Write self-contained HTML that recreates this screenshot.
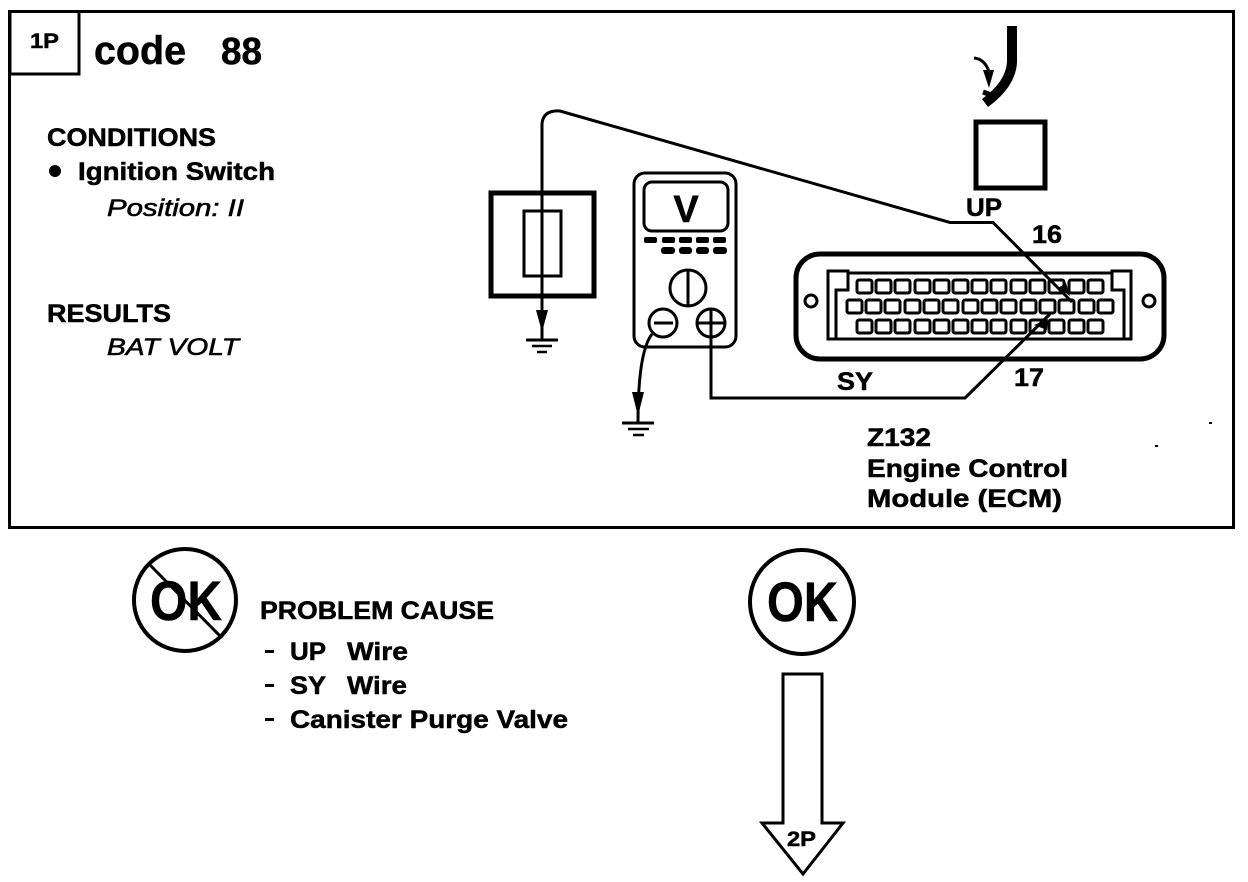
<!DOCTYPE html>
<html><head><meta charset="utf-8">
<style>
html,body{margin:0;padding:0;background:#fff;width:1248px;height:882px;overflow:hidden}
svg{display:block}
text{font-family:"Liberation Sans",sans-serif;font-weight:bold;fill:#000;stroke:#000;stroke-width:.5px}
.i{font-style:italic;font-weight:normal;stroke-width:.6px}
.w{fill:none;stroke:#000}
</style></head><body>
<svg width="1248" height="882" viewBox="0 0 1248 882" xmlns="http://www.w3.org/2000/svg">
<!-- main frame -->
<rect x="9.5" y="11.5" width="1224" height="516" class="w" stroke-width="3"/>
<path d="M10 11V74H79V11" class="w" stroke-width="3"/>
<text x="30" y="48" font-size="21" textLength="29" lengthAdjust="spacingAndGlyphs">1P</text>
<text x="94" y="64" font-size="40" textLength="92" lengthAdjust="spacingAndGlyphs">code</text>
<text x="221" y="64" font-size="38" textLength="41" lengthAdjust="spacingAndGlyphs">88</text>

<text x="47" y="146" font-size="25" textLength="169" lengthAdjust="spacingAndGlyphs">CONDITIONS</text>
<circle cx="55" cy="171" r="6"/>
<text x="78" y="180" font-size="25" textLength="197" lengthAdjust="spacingAndGlyphs">Ignition Switch</text>
<text x="107" y="216" font-size="24" class="i" textLength="137" lengthAdjust="spacingAndGlyphs">Position: II</text>
<text x="47" y="322" font-size="25" textLength="124" lengthAdjust="spacingAndGlyphs">RESULTS</text>
<text x="107" y="355" font-size="24" class="i" textLength="132" lengthAdjust="spacingAndGlyphs">BAT VOLT</text>

<!-- relay box -->
<rect x="491" y="193" width="103" height="103" class="w" stroke-width="5"/>
<rect x="524" y="211" width="37" height="65" class="w" stroke-width="3"/>
<path d="M542 340V124Q543 110 560 111L950 222.500H993L1072 302" class="w" stroke-width="3"/>
<path d="M536 310H548L542 332Z"/>
<path d="M526 340H558" class="w" stroke-width="3"/><path d="M532 346H552" class="w" stroke-width="2.500"/><path d="M537 352H547" class="w" stroke-width="2.500"/>
<path d="M1058 288L1066 283L1070 296Z"/>

<!-- meter -->
<rect x="634" y="173" width="102" height="174" rx="11" class="w" stroke-width="3"/>
<rect x="644" y="182" width="84" height="49" rx="8" class="w" stroke-width="3"/>
<text x="686" y="222" font-size="38" text-anchor="middle">V</text>
<g>
<rect x="644" y="237" width="13" height="6" rx="2"/><rect x="662" y="237" width="13" height="6" rx="2"/><rect x="679" y="237" width="13" height="6" rx="2"/><rect x="696" y="237" width="13" height="6" rx="2"/><rect x="713" y="237" width="13" height="6" rx="2"/>
<rect x="661" y="247" width="14" height="7" rx="3"/><rect x="679" y="247" width="13" height="7" rx="3"/><rect x="696" y="247" width="13" height="7" rx="3"/><rect x="713" y="247" width="14" height="7" rx="3"/>
</g>
<circle cx="688" cy="288" r="18" class="w" stroke-width="3"/><path d="M688 270V306" class="w" stroke-width="3"/>
<circle cx="663" cy="323" r="14" class="w" stroke-width="3"/><path d="M654 323H673" class="w" stroke-width="3"/>
<circle cx="711" cy="323" r="14" class="w" stroke-width="3"/><path d="M698 323H725M711 310V336" class="w" stroke-width="3"/>
<path d="M652 334Q638 352 638 422" class="w" stroke-width="3"/>
<path d="M632 392H644L638 416Z"/>
<path d="M622 423H654" class="w" stroke-width="3"/><path d="M628 429H649" class="w" stroke-width="2.500"/><path d="M633 435H644" class="w" stroke-width="2.500"/>
<path d="M711 336V398H965L1050 314" class="w" stroke-width="3"/>
<path d="M1034 325L1048 319L1047 330Z"/>

<!-- UP -->
<rect x="976" y="122" width="69" height="66" class="w" stroke-width="5"/>
<path d="M1012 26V62Q1011 84 985 103" class="w" stroke-width="10"/>
<path d="M974 58Q985 59 989 72" class="w" stroke-width="3"/>
<path d="M983 70H994L989 88Z"/>
<path d="M983 92L994 96" class="w" stroke-width="5"/>
<text x="966" y="216" font-size="25" textLength="36" lengthAdjust="spacingAndGlyphs">UP</text>
<text x="1032" y="243" font-size="25" textLength="30" lengthAdjust="spacingAndGlyphs">16</text>
<text x="837" y="390" font-size="25" textLength="36" lengthAdjust="spacingAndGlyphs">SY</text>
<text x="1014" y="386" font-size="25" textLength="30" lengthAdjust="spacingAndGlyphs">17</text>

<!-- ECM connector -->
<rect x="796" y="254" width="368" height="105" rx="24" class="w" stroke-width="5"/>
<circle cx="811" cy="301" r="6" class="w" stroke-width="3"/>
<circle cx="1149" cy="301" r="6" class="w" stroke-width="3"/>
<path d="M828 339V271H848V273H1112V271H1131V339ZM836 339V290H848V273M1124 339V290H1112V273" class="w" stroke-width="3"/>
<g class="w" stroke-width="3">
<rect x="857" y="280" width="15" height="13" rx="2"/><rect x="876" y="280" width="15" height="13" rx="2"/><rect x="895" y="280" width="15" height="13" rx="2"/><rect x="915" y="280" width="15" height="13" rx="2"/><rect x="934" y="280" width="15" height="13" rx="2"/><rect x="953" y="280" width="15" height="13" rx="2"/><rect x="972" y="280" width="15" height="13" rx="2"/><rect x="991" y="280" width="15" height="13" rx="2"/><rect x="1011" y="280" width="15" height="13" rx="2"/><rect x="1030" y="280" width="15" height="13" rx="2"/><rect x="1049" y="280" width="15" height="13" rx="2"/><rect x="1069" y="280" width="15" height="13" rx="2"/><rect x="1088" y="280" width="15" height="13" rx="2"/>
<rect x="847" y="300" width="15" height="13" rx="2"/><rect x="866" y="300" width="15" height="13" rx="2"/><rect x="885" y="300" width="15" height="13" rx="2"/><rect x="905" y="300" width="15" height="13" rx="2"/><rect x="924" y="300" width="15" height="13" rx="2"/><rect x="943" y="300" width="15" height="13" rx="2"/><rect x="963" y="300" width="15" height="13" rx="2"/><rect x="982" y="300" width="15" height="13" rx="2"/><rect x="1001" y="300" width="15" height="13" rx="2"/><rect x="1021" y="300" width="15" height="13" rx="2"/><rect x="1040" y="300" width="15" height="13" rx="2"/><rect x="1059" y="300" width="15" height="13" rx="2"/><rect x="1079" y="300" width="15" height="13" rx="2"/><rect x="1098" y="300" width="15" height="13" rx="2"/>
<rect x="857" y="320" width="15" height="13" rx="2"/><rect x="876" y="320" width="15" height="13" rx="2"/><rect x="895" y="320" width="15" height="13" rx="2"/><rect x="915" y="320" width="15" height="13" rx="2"/><rect x="934" y="320" width="15" height="13" rx="2"/><rect x="953" y="320" width="15" height="13" rx="2"/><rect x="972" y="320" width="15" height="13" rx="2"/><rect x="991" y="320" width="15" height="13" rx="2"/><rect x="1011" y="320" width="15" height="13" rx="2"/><rect x="1030" y="320" width="15" height="13" rx="2"/><rect x="1049" y="320" width="15" height="13" rx="2"/><rect x="1069" y="320" width="15" height="13" rx="2"/><rect x="1088" y="320" width="15" height="13" rx="2"/>
</g>
<text x="867" y="446" font-size="25" textLength="64" lengthAdjust="spacingAndGlyphs">Z132</text>
<text x="867" y="477" font-size="25" textLength="201" lengthAdjust="spacingAndGlyphs">Engine Control</text>
<text x="867" y="507" font-size="25" textLength="195" lengthAdjust="spacingAndGlyphs">Module (ECM)</text>
<rect x="1209" y="422" width="3" height="2"/><rect x="1155" y="445" width="3" height="2"/>

<!-- OK circles -->
<circle cx="185" cy="600" r="51" class="w" stroke-width="4"/>
<path d="M150 565L222 638" class="w" stroke-width="3"/>
<text x="150" y="620" font-size="56" textLength="72" lengthAdjust="spacingAndGlyphs">OK</text>
<circle cx="802" cy="602" r="52" class="w" stroke-width="4"/>
<text x="767" y="621" font-size="56" textLength="71" lengthAdjust="spacingAndGlyphs">OK</text>

<text x="260" y="619" font-size="25" textLength="234" lengthAdjust="spacingAndGlyphs">PROBLEM CAUSE</text>
<rect x="265" y="650" width="9" height="3"/>
<text x="290" y="660" font-size="25" textLength="36" lengthAdjust="spacingAndGlyphs">UP</text>
<text x="347" y="660" font-size="25" textLength="61" lengthAdjust="spacingAndGlyphs">Wire</text>
<rect x="265" y="684" width="9" height="3"/>
<text x="290" y="694" font-size="25" textLength="36" lengthAdjust="spacingAndGlyphs">SY</text>
<text x="347" y="694" font-size="25" textLength="60" lengthAdjust="spacingAndGlyphs">Wire</text>
<rect x="265" y="718" width="9" height="3"/>
<text x="290" y="728" font-size="25" textLength="278" lengthAdjust="spacingAndGlyphs">Canister Purge Valve</text>

<!-- down arrow -->
<path d="M783 823V674H822V823H843L803 874L762 823Z" class="w" stroke-width="3"/>
<text x="787" y="846" font-size="21" textLength="29" lengthAdjust="spacingAndGlyphs">2P</text>
</svg>
</body></html>
